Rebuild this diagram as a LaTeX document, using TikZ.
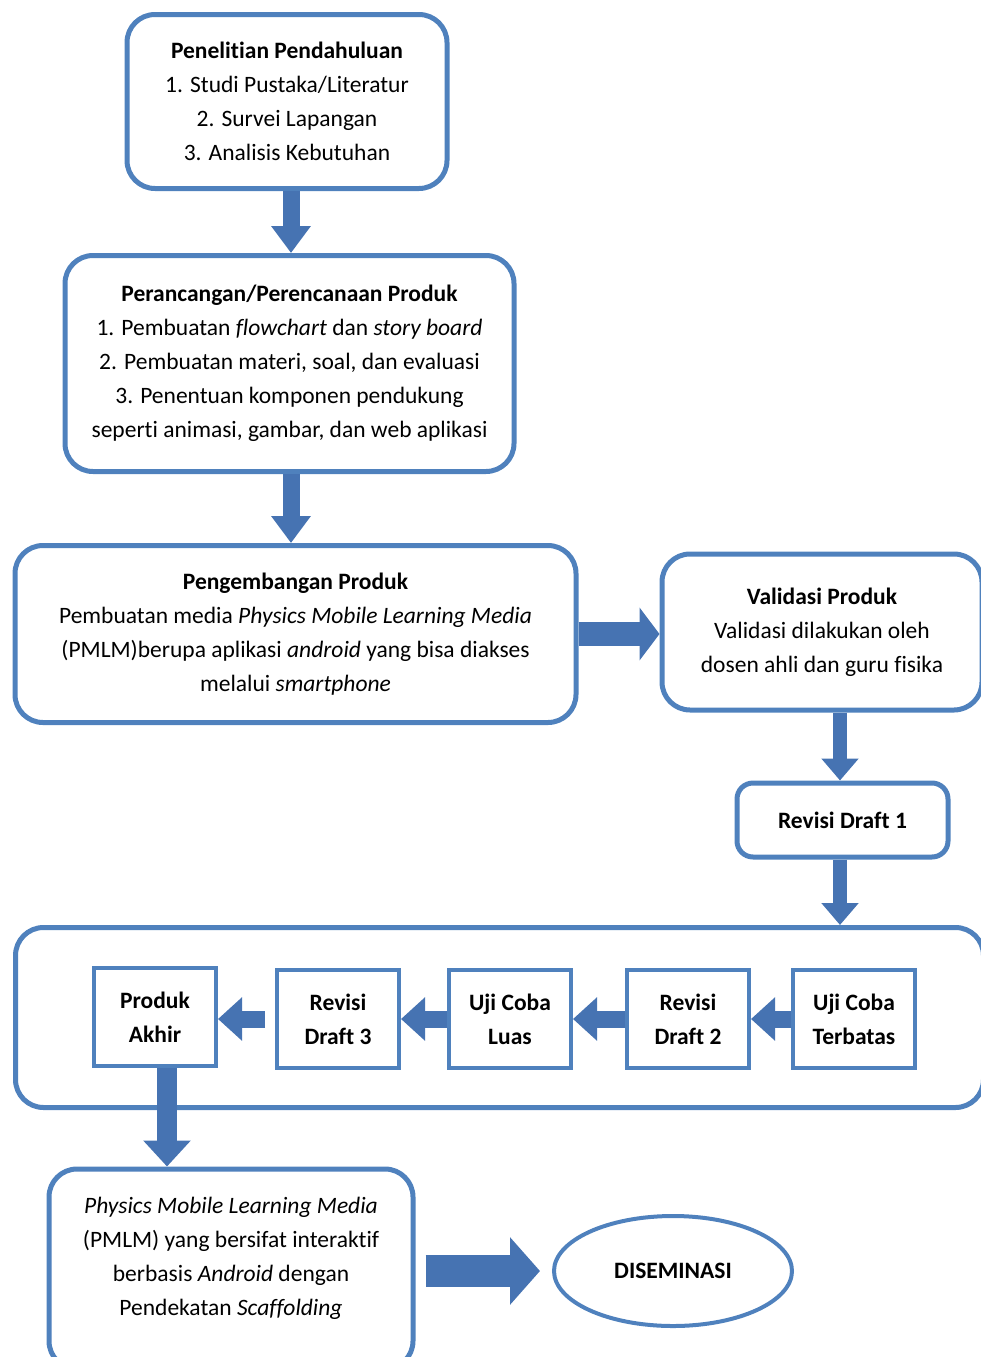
\documentclass[tikz,border=0pt]{standalone}
\usepackage{fontspec}
\setmainfont{Carlito}[Ligatures=NoCommon]
\usetikzlibrary{arrows.meta,shapes.geometric}
\definecolor{boxblue}{RGB}{79,129,189}
\definecolor{arrowblue}{RGB}{70,115,178}

\begin{document}
\begin{tikzpicture}[x=1pt,y=-1pt,
    every node/.style={font=\fontsize{23.5}{34}\selectfont, align=center, inner sep=0pt},
    box/.style={draw=boxblue, line width=5pt, rounded corners=28pt, fill=white},
    smallbox/.style={draw=boxblue, line width=4pt, fill=white, minimum width=122, minimum height=98},
    arr/.style n args={3}{draw=arrowblue, line width=#1, -{Triangle[width=#2,length=#3]}}]
    \useasboundingbox (0,0) rectangle (981,1357);
    \node[box, minimum width=320, minimum height=174] (a) at (287,101.5) {\textbf{Penelitian Pendahuluan}\\1. Studi Pustaka/Literatur\\2. Survei Lapangan\\3. Analisis Kebutuhan};
    \node[box, minimum width=449, minimum height=216] (b) at (289.5,363.5) {\textbf{Perancangan/Perencanaan Produk}\\1. Pembuatan \textit{flowchart} dan \textit{story board}\\2. Pembuatan materi, soal, dan evaluasi\\3. Penentuan komponen pendukung\\seperti animasi, gambar, dan web aplikasi};
    \node[box, minimum width=561, minimum height=177] (c) at (295.5,634) {\textbf{Pengembangan Produk}\\Pembuatan media \textit{Physics Mobile Learning Media}\\(PMLM)berupa aplikasi \textit{android} yang bisa diakses\\melalui \textit{smartphone}};
    \node[box, minimum width=320, minimum height=156] (d) at (822,632) {\textbf{Validasi Produk}\\Validasi dilakukan oleh\\dosen ahli dan guru fisika};
    \node[box, rounded corners=16pt, minimum width=211, minimum height=74] (e) at (842.5,820) {\textbf{Revisi Draft 1}};
    \node[box, minimum width=968, minimum height=180] (f) at (499.5,1017.5) {};
    \node[smallbox] (p1) at (155,1017) {\textbf{Produk}\\\textbf{Akhir}};
    \node[smallbox] (p2) at (338,1019) {\textbf{Revisi}\\\textbf{Draft 3}};
    \node[smallbox] (p3) at (510,1019) {\textbf{Uji Coba}\\\textbf{Luas}};
    \node[smallbox] (p4) at (688,1019) {\textbf{Revisi}\\\textbf{Draft 2}};
    \node[smallbox] (p5) at (854,1019) {\textbf{Uji Coba}\\\textbf{Terbatas}};
    \node[box, minimum width=364, minimum height=200] (g) at (231,1269) {};
    \node (gt) at (231,1258) {\textit{Physics Mobile Learning Media}\\(PMLM) yang bersifat interaktif\\berbasis \textit{Android} dengan\\Pendekatan \textit{Scaffolding}};
    \node[ellipse, draw=boxblue, line width=4pt, minimum width=238, minimum height=110] (h) at (673,1271) {\textbf{DISEMINASI}};
    \draw[arr={17pt}{38pt}{27pt}] (a.south -| 291,0) -- (b.north -| 291,0);
    \draw[arr={17pt}{38pt}{27pt}] (b.south -| 291,0) -- (c.north -| 291,0);
    \draw[arr={24pt}{52pt}{20pt}] (c.east) -- (c.east -| d.west);
    \draw[arr={14pt}{36pt}{22pt}] (d.south -| 840,0) -- (e.north -| 840,0);
    \draw[arr={14pt}{36pt}{22pt}] (e.south -| 840,0) -- (f.north -| 840,0);
    \draw[arr={17pt}{42pt}{24pt}] (p5) -- (p4);
    \draw[arr={17pt}{42pt}{24pt}] (p4) -- (p3);
    \draw[arr={17pt}{42pt}{24pt}] (p3) -- (p2);
    \draw[arr={17pt}{42pt}{24pt}, shorten <=10pt] (p2.west) -- (p2.west -| p1.east);
    \draw[arr={20pt}{46pt}{26pt}] (p1.south -| 167,0) -- (g.north -| 167,0);
    \draw[arr={32pt}{66pt}{30pt}, shorten <=10pt, shorten >=12pt] (g.east |- h) -- (h.west);
\end{tikzpicture}
\end{document}
